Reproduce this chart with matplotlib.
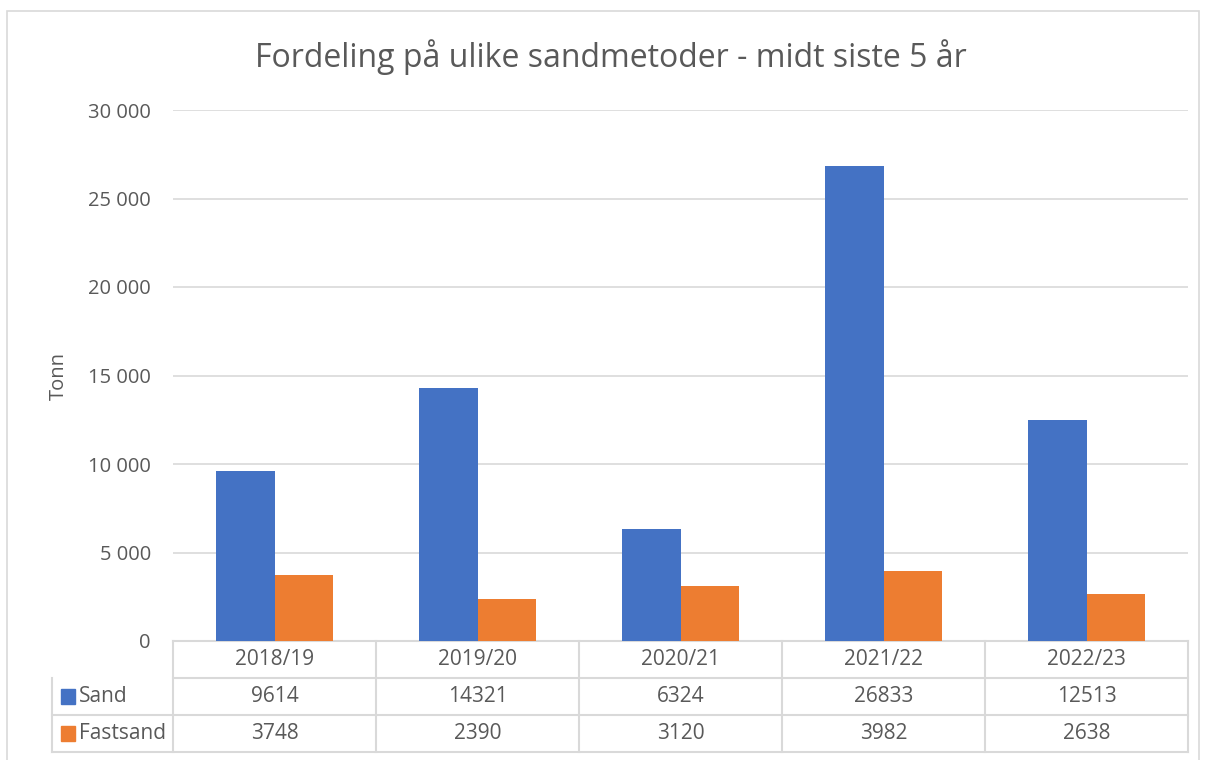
import numpy as np
import matplotlib.pyplot as plt
from matplotlib.patches import Rectangle
import matplotlib.transforms as mtransforms

plt.rcParams["font.family"] = ["Open Sans", "DejaVu Sans"]

seasons = ["2018/19", "2019/20", "2020/21", "2021/22", "2022/23"]
sand = [9614, 14321, 6324, 26833, 12513]
fastsand = [3748, 2390, 3120, 3982, 2638]
series_names = ["Sand", "Fastsand"]
colors = ["#4472C4", "#ED7D31"]
text_col = "#595959"
grid_col = "#D9D9D9"

fig = plt.figure(figsize=(12.06, 7.6), dpi=100)
W, H = 1206, 760
ax = fig.add_axes([173 / W, 1 - 641 / H, (1188 - 173) / W, (641 - 110) / H])

# outer chart border
fig.patches.append(Rectangle((7 / W, -0.01), (1199 - 7) / W, 1 - 11 / H + 0.01,
                             transform=fig.transFigure, fill=False,
                             edgecolor=grid_col, lw=1.2))

x = np.arange(len(seasons))
bw = 0.286
ax.bar(x - bw / 2, sand, bw, color=colors[0], zorder=3)
ax.bar(x + bw / 2, fastsand, bw, color=colors[1], zorder=3)

ax.set_xlim(-0.5, len(seasons) - 0.5)
ax.set_ylim(0, 30000)
ticks = np.arange(0, 30001, 5000)
ax.set_yticks(ticks)
ax.set_yticklabels([f"{t:,}".replace(",", " ") for t in ticks],
                   fontsize=14.5, color=text_col)
ax.tick_params(axis="y", length=0, pad=16)
ax.set_xticks([])
ax.grid(axis="y", color=grid_col, lw=1.2, zorder=0)
for s in ax.spines.values():
    s.set_visible(False)

ax.set_ylabel("Tonn", fontsize=14.5, color=text_col, labelpad=14)
fig.text(611 / W, 1 - 57 / H,
         "Fordeling på ulike sandmetoder - midt siste 5 år",
         ha="center", va="center", fontsize=23, color=text_col)

# data table below the axes
trans = mtransforms.blended_transform_factory(ax.transData, ax.transAxes)
rh = 37 / 531
lw = 1.5
legend_left = -0.5 - (173 - 52) / 203
rows = [None, sand, fastsand]
for i, vals in enumerate(rows):
    y0 = -rh * (i + 1)
    yc = y0 + rh / 2
    left = -0.5 if i == 0 else legend_left
    ax.plot([left, len(seasons) - 0.5], [y0, y0], transform=trans,
            color=grid_col, lw=lw, clip_on=False)
    for j in range(len(seasons)):
        txt = seasons[j] if vals is None else str(vals[j])
        ax.text(x[j], yc, txt, transform=trans, ha="center", va="center",
                fontsize=15, color=text_col, clip_on=False)
    if vals is not None:
        ax.add_patch(Rectangle((legend_left + 9 / 203, yc - 0.014), 14 / 203, 0.028,
                               transform=trans, color=colors[i - 1], clip_on=False))
        ax.text(legend_left + 27 / 203, yc, series_names[i - 1], transform=trans,
                ha="left", va="center", fontsize=15, color=text_col, clip_on=False)
# top line of header row and vertical lines
ax.plot([-0.5, len(seasons) - 0.5], [0, 0], transform=trans,
        color=grid_col, lw=lw, clip_on=False)
ax.plot([legend_left, legend_left], [-rh, -3 * rh], transform=trans,
        color=grid_col, lw=lw, clip_on=False)
for k in range(len(seasons) + 1):
    xv = k - 0.5
    ax.plot([xv, xv], [0, -3 * rh], transform=trans,
            color=grid_col, lw=lw, clip_on=False)

fig.savefig("out.png", dpi=100)
